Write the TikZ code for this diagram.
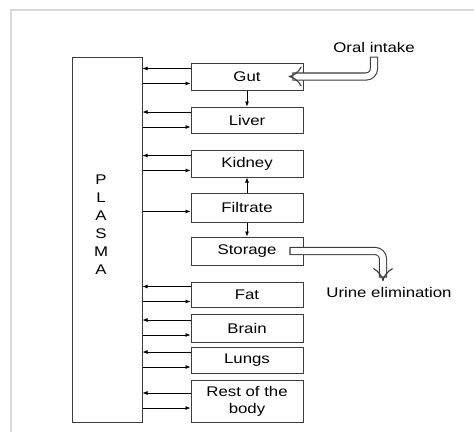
\documentclass[tikz,border=0pt]{standalone}
\usepackage{fontspec}
\setmainfont{Liberation Sans}[FakeStretch=1.2]
\usetikzlibrary{arrows.meta}
\definecolor{framegray}{RGB}{217,217,217}
\definecolor{linegray}{RGB}{60,60,60}

\begin{document}
\begin{tikzpicture}[x=1pt, y=-1pt,
    label font/.style={font=\fontsize{14}{17}\selectfont},
    organ/.style={draw=linegray, line width=1pt, minimum width=112pt, inner sep=0pt, label font},
    flow/.style={-{Latex[length=5pt,width=4pt]}, line width=0.7pt},
    hollow/.style={draw=linegray, line width=1.1pt, double=white, double distance=6pt,
                   line cap=rect, rounded corners=8pt, -{Implies[length=8pt,width=18pt]}}]
    \useasboundingbox (0,0) rectangle (474,432);

    % Outer frame
    \draw[framegray, line width=2pt] (11,432) -- (11,10) -- (474,10);

    % Plasma
    \node[draw=linegray, line width=1pt, minimum width=70pt, minimum height=365pt] (plasma) at (107,239.5) {};
    \node[label font, align=center, font=\fontsize{14}{18}\selectfont] (letters) at (101,225) {P\\L\\A\\S\\M\\A};

    % Organs
    \node[organ, minimum height=27pt] (gut) at (247,76.5) {Gut};
    \node[organ, minimum height=26pt] (liver) at (247,120) {Liver};
    \node[organ, minimum height=27pt] (kidney) at (247,163.5) {Kidney};
    \node[organ, minimum height=29pt] (filtrate) at (247,207.5) {Filtrate};
    \node[organ, minimum height=28pt] (storage) at (247,251) {Storage};
    \node[organ, minimum height=25pt] (fat) at (247,294.5) {Fat};
    \node[organ, minimum height=28pt] (brain) at (247,328) {Brain};
    \node[organ, minimum height=26pt] (lungs) at (247,360) {Lungs};
    \node[organ, minimum height=42pt, align=center] (rest) at (247,401) {Rest of the\\body};

    % Exchange with plasma
    \foreach \b in {gut,liver,kidney,fat,brain,lungs,rest} {
        \draw[flow] ([yshift=8pt]\b.west) -- ([yshift=8pt]\b.west -| plasma.east);
        \draw[flow] ([yshift=-7pt]\b.west -| plasma.east) -- ([yshift=-7pt]\b.west);
    }
    \draw[flow] ([yshift=-4pt]filtrate.west -| plasma.east) -- ([yshift=-4pt]filtrate.west);

    % Between organs
    \draw[flow] (gut) -- (liver);
    \draw[flow] (filtrate) -- (kidney);
    \draw[flow] (filtrate) -- (storage);

    % Oral intake
    \node[label font] (oral) at (374,47) {Oral intake};
    \draw[hollow] ([yshift=-5pt]oral.south) |- ([xshift=-15pt]gut.east);

    % Urine elimination
    \node[label font] (urine) at (389,292) {Urine elimination};
    \draw[hollow] ([xshift=-10pt]storage.east) -| ([xshift=-6pt,yshift=2pt]urine.north);
\end{tikzpicture}
\end{document}
